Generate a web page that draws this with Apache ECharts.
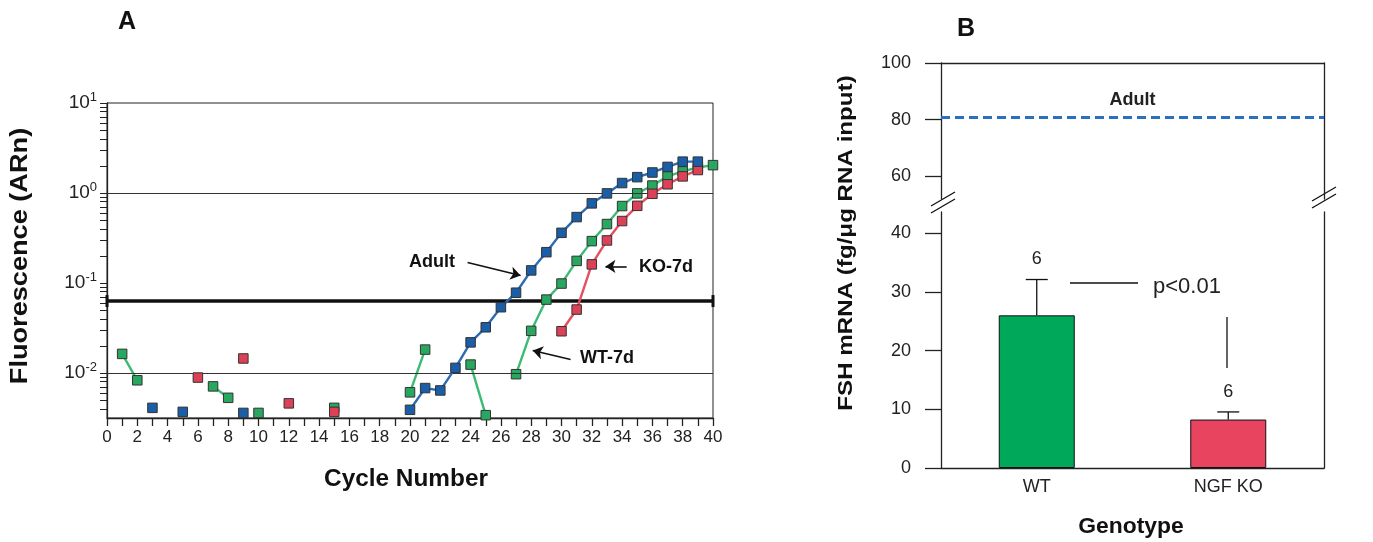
<!DOCTYPE html>
<html>
<head>
<meta charset="utf-8">
<title>FSH figure</title>
<script src="https://cdn.jsdelivr.net/npm/echarts@6/dist/echarts.min.js"></script>
<style>
	html, body { margin: 0; padding: 0; background: #fff; }
	#chart { width: 1373px; height: 542px; }
</style>
</head>
<body>
<div id="chart"></div>
<script>
	// ---- panel A : amplification curves (index = cycle number, null = no point)
	var cycleNums = [0, 1, 2, 3, 4, 5, 6, 7, 8, 9, 10, 11, 12, 13, 14, 15, 16, 17, 18, 19, 20,
		21, 22, 23, 24, 25, 26, 27, 28, 29, 30, 31, 32, 33, 34, 35, 36, 37, 38, 39, 40];
	var adultCurve = [null, null, null, 0.0041, null, 0.0037, null, null, null, 0.0036, null,
		null, null, null, null, null, null, null, null, null, 0.0039,
		0.0068, 0.0064, 0.0114, 0.0219, 0.0322, 0.0538, 0.078, 0.138, 0.22, 0.361,
		0.54, 0.767, 0.99, 1.29, 1.5, 1.69, 1.95, 2.23, 2.23, null];
	var wtCurve = [null, 0.0163, 0.0083, null, null, null, null, 0.0071, 0.0053, null, 0.0036,
		null, null, null, null, 0.0041, null, null, null, null, 0.0061,
		0.0182, null, null, 0.0124, 0.0034, null, 0.0097, 0.0294, 0.0654, 0.0986,
		0.176, 0.292, 0.452, 0.716, 0.99, 1.21, 1.53, 1.74, 1.92, 2.04];
	var koCurve = [null, null, null, null, null, null, 0.0089, null, null, 0.0145, null,
		null, 0.0046, null, null, 0.0037, null, null, null, null, null,
		null, null, null, null, null, null, null, null, null, 0.0291,
		0.0507, 0.161, 0.297, 0.488, 0.72, 0.98, 1.25, 1.53, 1.8, null];
	var thresholdLevel = 0.063;
	var gridLevels = [1, 0.01];
	var logDecades = [0.001, 0.01, 0.1, 1, 10];
	var logMantissas = [1, 2, 3, 4, 5, 6, 7, 8, 9];

	// ---- panel B : FSH mRNA by genotype
	var genotypes = ['WT', 'NGF KO'];
	var fshMean = [26.0, 8.25];
	var fshSem = [6.1, 1.3];
	var sampleN = [6, 6];
	var adultLevel = 80.8;
	var upperTicks = [60, 80, 100];
	var lowerTicks = [0, 10, 20, 30, 40];

	var fontFam = "'Liberation Sans', Arial, Helvetica, sans-serif";
	var ink = '#222';

	function pairs(vals) {
		return cycleNums.map(function (c, i) { return [c, vals[i]]; });
	}

	// tick positions for the log axis, in log10 units
	var logTicks = [];
	logDecades.forEach(function (d) {
		logMantissas.forEach(function (m) {
			var v = Math.log10(d * m);
			if (v >= -2.5 - 1e-9 && v <= 1 + 1e-9) logTicks.push(v);
		});
	});

	function curveSeries(name, vals, lineColor, fill, z) {
		return {
			name: name,
			type: 'line',
			xAxisIndex: 0,
			yAxisIndex: 0,
			data: pairs(vals),
			connectNulls: false,
			symbol: 'rect',
			symbolSize: 9.5,
			showSymbol: true,
			z: z,
			lineStyle: { color: lineColor, width: 2.4 },
			itemStyle: { color: fill, borderColor: '#333', borderWidth: 1 },
			animation: false
		};
	}

	var chart = echarts.init(document.getElementById('chart'));

	var option = {
		animation: false,
		textStyle: { fontFamily: fontFam },
		grid: [
			{ left: 107, top: 103, width: 606, height: 315, show: true, borderColor: ink, borderWidth: 1 },
			{ left: 941, top: 63, width: 383, height: 136 },
			{ left: 941, top: 212, width: 383, height: 256 }
		],
		xAxis: [
			{
				type: 'value', gridIndex: 0, min: 0, max: 40, interval: 1,
				axisLine: { onZero: false, lineStyle: { color: ink, width: 1.3 } },
				axisTick: { show: true, length: 8, lineStyle: { color: ink, width: 1.3 } },
				axisLabel: {
					fontSize: 17, color: ink, margin: 11,
					formatter: function (v) { return v % 2 === 0 ? String(v) : ''; }
				},
				splitLine: { show: false }
			},
			{
				type: 'category', gridIndex: 1, data: genotypes, position: 'top',
				axisLine: { onZero: false, lineStyle: { color: ink, width: 1.3 } },
				axisTick: { show: false }, axisLabel: { show: false }
			},
			{
				type: 'category', gridIndex: 2, data: genotypes,
				axisLine: { onZero: false, lineStyle: { color: ink, width: 1.3 } },
				axisTick: { show: false },
				axisLabel: { fontSize: 18, color: ink, margin: 10 }
			}
		],
		yAxis: [
			{
				type: 'log', gridIndex: 0, min: Math.pow(10, -2.5), max: 10, logBase: 10,
				axisLine: { show: true, lineStyle: { color: ink, width: 1.3 } },
				axisTick: { show: false },
				splitLine: { show: false },
				axisLabel: {
					margin: 10, color: ink,
					formatter: function (v) {
						var e = Math.log10(v);
						if (Math.abs(e - Math.round(e)) > 1e-6) return '';
						return '{b|10}{s|' + Math.round(e) + '}';
					},
					rich: {
						b: { fontSize: 19, color: ink, fontFamily: fontFam },
						s: { fontSize: 13, color: ink, fontFamily: fontFam, padding: [0, 0, 11, 0] }
					}
				}
			},
			{
				// carries the major and minor tick marks of the log axis
				type: 'value', gridIndex: 0, min: -2.5, max: 1, position: 'left',
				axisLine: { show: false },
				axisLabel: { show: false },
				splitLine: { show: false },
				axisTick: { show: true, length: 7, customValues: logTicks, lineStyle: { color: ink, width: 1 } }
			},
			{
				type: 'value', gridIndex: 1, min: 52, max: 100,
				axisLine: { show: true, lineStyle: { color: ink, width: 1.3 } },
				axisTick: { show: true, length: 16, customValues: upperTicks, lineStyle: { color: ink, width: 1.3 } },
				axisLabel: { customValues: upperTicks, fontSize: 18, color: ink, margin: 30 },
				splitLine: { show: false }
			},
			{
				type: 'value', gridIndex: 1, min: 52, max: 100, position: 'right',
				axisLine: { show: true, lineStyle: { color: ink, width: 1.3 } },
				axisTick: { show: false }, axisLabel: { show: false }, splitLine: { show: false }
			},
			{
				type: 'value', gridIndex: 2, min: 0, max: 43.6,
				axisLine: { show: true, lineStyle: { color: ink, width: 1.3 } },
				axisTick: { show: true, length: 16, customValues: lowerTicks, lineStyle: { color: ink, width: 1.3 } },
				axisLabel: { customValues: lowerTicks, fontSize: 18, color: ink, margin: 30 },
				splitLine: { show: false }
			},
			{
				type: 'value', gridIndex: 2, min: 0, max: 43.6, position: 'right',
				axisLine: { show: true, lineStyle: { color: ink, width: 1.3 } },
				axisTick: { show: false }, axisLabel: { show: false }, splitLine: { show: false }
			}
		],
		series: [
			{
				name: 'threshold',
				type: 'line',
				xAxisIndex: 0, yAxisIndex: 0,
				data: [[0, thresholdLevel], [40, thresholdLevel]],
				symbol: 'rect', symbolSize: [3, 12], showSymbol: true,
				itemStyle: { color: '#111' },
				lineStyle: { color: '#111', width: 3.5 },
				z: 3,
				markLine: {
					silent: true, symbol: ['none', 'none'],
					label: { show: false },
					lineStyle: { color: '#333', width: 1, type: 'solid' },
					data: gridLevels.map(function (g) { return { yAxis: g }; })
				}
			},
			Object.assign(curveSeries('WT-7d', wtCurve, '#3dba74', '#27a85e', 4), {
				markLine: {
					silent: true, symbol: ['none', 'arrow'], symbolSize: 10,
					label: { show: false },
					lineStyle: { color: '#111', width: 1.6, type: 'solid' },
					data: [
						[{ coord: [23.8, 0.169] }, { coord: [27.3, 0.121] }],
						[{ coord: [34.3, 0.153] }, { coord: [32.9, 0.153] }],
						[{ coord: [30.6, 0.0141] }, { coord: [28.1, 0.0178] }]
					]
				}
			}),
			curveSeries('KO-7d', koCurve, '#e5505e', '#dd4157', 5),
			curveSeries('Adult', adultCurve, '#2b6cb3', '#1a5ea8', 6),
			{
				name: 'adult level',
				type: 'line',
				xAxisIndex: 1, yAxisIndex: 2,
				data: [],
				markLine: {
					silent: true, symbol: ['none', 'none'],
					lineStyle: { color: '#2a70c2', width: 3, type: [9, 5] },
					label: {
						show: true, position: 'middle', formatter: 'Adult', distance: 8,
						fontSize: 18, fontWeight: 'bold', color: ink, fontFamily: fontFam
					},
					data: [{ yAxis: adultLevel }]
				}
			},
			{
				name: 'FSH',
				type: 'bar',
				xAxisIndex: 2, yAxisIndex: 4,
				barWidth: 76,
				data: fshMean.map(function (v, i) {
					return { value: v, itemStyle: { color: i === 0 ? '#00a85a' : '#e8435f' } };
				}),
				itemStyle: { borderColor: '#111', borderWidth: 1 },
				z: 2
			},
			{
				name: 'error',
				type: 'custom',
				xAxisIndex: 2, yAxisIndex: 4,
				data: fshMean.map(function (v, i) { return [i, v, fshSem[i], sampleN[i]]; }),
				encode: { x: 0, y: 1 },
				z: 3,
				renderItem: function (params, api) {
					var base = api.coord([api.value(0), api.value(1)]);
					var top = api.coord([api.value(0), api.value(1) + api.value(2)]);
					var st = { stroke: '#111', lineWidth: 1.3 };
					return {
						type: 'group',
						children: [
							{ type: 'line', shape: { x1: base[0], y1: base[1], x2: top[0], y2: top[1] }, style: st },
							{ type: 'line', shape: { x1: top[0] - 11, y1: top[1], x2: top[0] + 11, y2: top[1] }, style: st },
							{
								type: 'text', x: top[0], y: top[1] - 20,
								style: {
									text: String(api.value(3)), fill: ink, font: '18px ' + fontFam,
									align: 'center', verticalAlign: 'middle'
								}
							}
						]
					};
				}
			}
		],
		graphic: [
			{ type: 'text', x: 127, y: 22, style: { text: 'A', font: 'bold 25px ' + fontFam, fill: '#111', align: 'center', verticalAlign: 'middle' } },
			{ type: 'text', x: 966, y: 29, style: { text: 'B', font: 'bold 25px ' + fontFam, fill: '#111', align: 'center', verticalAlign: 'middle' } },
			{ type: 'text', x: 21, y: 256, rotation: Math.PI / 2, scaleX: 1.18, style: { text: 'Fluorescence (ARn)', font: 'bold 23px ' + fontFam, fill: '#111', align: 'center', verticalAlign: 'middle' } },
			{ type: 'text', x: 406, y: 480, scaleX: 1.06, style: { text: 'Cycle Number', font: 'bold 23px ' + fontFam, fill: '#111', align: 'center', verticalAlign: 'middle' } },
			{ type: 'text', x: 432, y: 262, style: { text: 'Adult', font: 'bold 18px ' + fontFam, fill: '#111', align: 'center', verticalAlign: 'middle' } },
			{ type: 'text', x: 666, y: 267, style: { text: 'KO-7d', font: 'bold 18px ' + fontFam, fill: '#111', align: 'center', verticalAlign: 'middle' } },
			{ type: 'text', x: 607, y: 358, style: { text: 'WT-7d', font: 'bold 18px ' + fontFam, fill: '#111', align: 'center', verticalAlign: 'middle' } },
			{ type: 'text', x: 846, y: 243, rotation: Math.PI / 2, scaleX: 1.15, style: { text: 'FSH mRNA (fg/\u03bcg RNA input)', font: 'bold 21px ' + fontFam, fill: '#111', align: 'center', verticalAlign: 'middle' } },
			{ type: 'text', x: 1131, y: 527, scaleX: 1.04, style: { text: 'Genotype', font: 'bold 22px ' + fontFam, fill: '#111', align: 'center', verticalAlign: 'middle' } },
			// significance bracket
			{ type: 'line', shape: { x1: 1070, y1: 283, x2: 1138, y2: 283 }, style: { stroke: '#111', lineWidth: 1.3 } },
			{ type: 'line', shape: { x1: 1227, y1: 317, x2: 1227, y2: 368 }, style: { stroke: '#111', lineWidth: 1.3 } },
			{ type: 'text', x: 1153, y: 287, style: { text: 'p<0.01', font: '22px ' + fontFam, fill: ink, align: 'left', verticalAlign: 'middle' } },
			// axis break marks
			{ type: 'line', shape: { x1: 931, y1: 206, x2: 955, y2: 192 }, style: { stroke: '#111', lineWidth: 1.3 } },
			{ type: 'line', shape: { x1: 931, y1: 213, x2: 955, y2: 199 }, style: { stroke: '#111', lineWidth: 1.3 } },
			{ type: 'line', shape: { x1: 1312, y1: 201, x2: 1336, y2: 187 }, style: { stroke: '#111', lineWidth: 1.3 } },
			{ type: 'line', shape: { x1: 1312, y1: 208, x2: 1336, y2: 194 }, style: { stroke: '#111', lineWidth: 1.3 } }
		]
	};

	chart.setOption(option);
</script>
</body>
</html>
